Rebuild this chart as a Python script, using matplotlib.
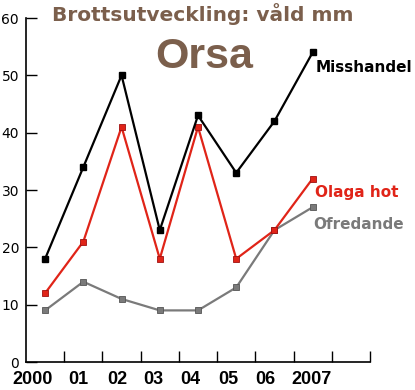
import matplotlib
matplotlib.use('Agg')
import matplotlib.pyplot as plt

# data
years = ['2000', '01', '02', '03', '04', '05', '06', '2007']
misshandel = [18, 34, 50, 23, 43, 33, 42, 54]
olaga_hot = [12, 21, 41, 18, 41, 18, 23, 32]
ofredande = [9, 14, 11, 9, 9, 13, 23, 27]

brown = '#7b5f4c'
red = '#e02418'
grey = '#7a7a7a'

fig = plt.figure(figsize=(4.15, 3.9), dpi=100)
ax = fig.add_axes([26 / 415, 28 / 390, 344 / 415, 344 / 390])

xs = [i + 0.5 for i in range(len(years))]
ax.plot(xs, ofredande, color=grey, lw=1.6, marker='s', ms=5,
        mfc=grey, mec='#555555', mew=0.6, zorder=2)
ax.plot(xs, olaga_hot, color=red, lw=1.6, marker='s', ms=5,
        mfc=red, mec='#a01010', mew=0.6, zorder=3)
ax.plot(xs, misshandel, color='black', lw=1.6, marker='s', ms=5,
        mfc='black', mec='black', zorder=4)

ax.set_xlim(0, 9)
ax.set_ylim(0, 60)
for s in ['top', 'right']:
    ax.spines[s].set_visible(False)
ax.spines['left'].set_linewidth(1.2)
ax.spines['bottom'].set_linewidth(1.2)

ax.set_yticks(range(0, 61, 10))
ax.tick_params(axis='y', direction='in', length=8, width=1, labelsize=10, pad=5)
ax.set_xticks(range(1, 10))
ax.set_xticklabels([])
ax.tick_params(axis='x', direction='in', length=8, width=1)

# year labels under the axis
label_pos = [0.16, 1.38, 2.38, 3.34, 4.31, 5.3, 6.27, 7.47]
for p, y in zip(label_pos, years):
    ax.text(p, -1.6, y, ha='center', va='top', fontsize=13,
            fontweight='bold', family='Liberation Sans')

ax.text(7.57, 51.4, 'Misshandel', fontsize=11, fontweight='bold',
        color='black', va='center')
ax.text(7.57, 29.6, 'Olaga hot', fontsize=11, fontweight='bold',
        color=red, va='center')
ax.text(7.51, 23.9, 'Ofredande', fontsize=11, fontweight='bold',
        color=grey, va='center')

fig.text(203 / 415, 1 - 14 / 390, 'Brottsutveckling: våld mm', ha='center',
         va='center', fontsize=14.5, fontweight='bold', color=brown)
fig.text(204 / 415, 1 - 57 / 390, 'Orsa', ha='center', va='center',
         fontsize=31, fontweight='bold', family='Liberation Sans', color=brown)

fig.savefig('out.png', dpi=100)
